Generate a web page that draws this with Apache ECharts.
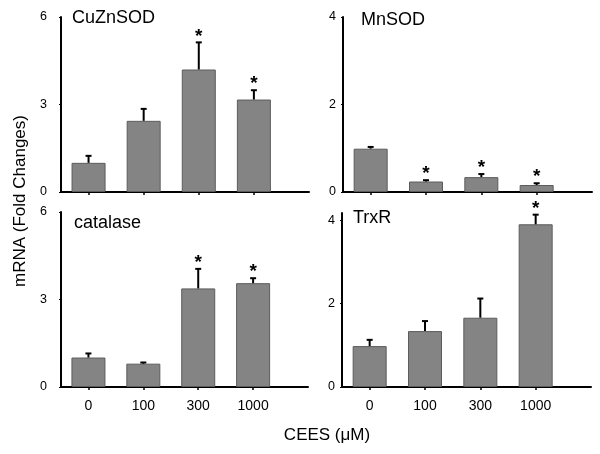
<!DOCTYPE html>
<html>
<head>
<meta charset="utf-8">
<script src="https://cdn.jsdelivr.net/npm/echarts@6/dist/echarts.min.js"></script>
<style>
html,body{margin:0;padding:0;background:#fff;}
#main{width:600px;height:454px;}
</style>
</head>
<body>
<div id="main"></div>
<script>
// CEES doses
var categories = ['0', '100', '300', '1000'];

// fold changes (mean) and error (upper half)
var cuznsod = [1.0, 2.44, 4.2, 3.17];
var cuznsodErr = [0.24, 0.41, 0.93, 0.32];
var cuznsodSig = [0, 0, 1, 1];

var mnsod = [0.99, 0.24, 0.34, 0.16];
var mnsodErr = [0.04, 0.03, 0.07, 0.04];
var mnsodSig = [0, 1, 1, 1];

var catalase = [1.01, 0.8, 3.38, 3.56];
var catalaseErr = [0.14, 0.04, 0.67, 0.17];
var catalaseSig = [0, 0, 1, 1];

var trxr = [0.98, 1.34, 1.66, 3.9];
var trxrErr = [0.15, 0.24, 0.46, 0.23];
var trxrSig = [0, 0, 0, 1];

var titles = ['CuZnSOD', 'MnSOD', 'catalase', 'TrxR'];
var yTicks = [[0, 3, 6], [0, 2, 4], [0, 3, 6], [0, 2, 4]];
var yMax = [6, 4, 6, 4.17];

var panels = [
    {name: titles[0], mean: cuznsod, err: cuznsodErr, sig: cuznsodSig},
    {name: titles[1], mean: mnsod, err: mnsodErr, sig: mnsodSig},
    {name: titles[2], mean: catalase, err: catalaseErr, sig: catalaseSig},
    {name: titles[3], mean: trxr, err: trxrErr, sig: trxrSig}
];

var FONT = '"Liberation Sans", Arial, sans-serif';

var grids = [
    {left: 61, top: 17, width: 248, height: 175},
    {left: 343, top: 17, width: 249, height: 175},
    {left: 61, top: 212, width: 247, height: 175},
    {left: 342, top: 213, width: 249, height: 174}
];
var titlePos = [[72, 9], [361, 11], [74, 214], [353, 209]];

var xAxes = [], yAxes = [], series = [], titleList = [];
var tickIdx = categories.map(function (c, i) { return i; });

panels.forEach(function (p, k) {
    var bottomRow = k >= 2;
    xAxes.push({
        gridIndex: k, type: 'value', min: -0.5, max: 4,
        splitLine: {show: false},
        axisLine: {onZero: false, lineStyle: {color: '#000', width: 2}},
        axisTick: {customValues: tickIdx, length: 3, lineStyle: {color: '#000', width: 1.5}},
        axisLabel: {
            show: bottomRow, customValues: tickIdx, margin: 12,
            fontFamily: FONT, fontSize: 14, color: '#000',
            formatter: function (v) { return categories[Math.round(v)]; }
        }
    });
    yAxes.push({
        gridIndex: k, type: 'value', min: 0, max: yMax[k],
        splitLine: {show: false},
        axisLine: {show: true, onZero: false, lineStyle: {color: '#000', width: 2}},
        axisTick: {customValues: yTicks[k], length: 2, lineStyle: {color: '#000'}},
        axisLabel: {
            customValues: yTicks[k], margin: k % 2 === 0 ? 14 : 7,
            fontFamily: FONT, fontSize: 12.5, color: '#000'
        }
    });
    series.push({
        type: 'bar', xAxisIndex: k, yAxisIndex: k, barWidth: 34,
        itemStyle: {color: '#848484', borderColor: '#5c5c5c', borderWidth: 1},
        data: p.mean.map(function (v, i) { return [i, v]; }),
        silent: true
    });
    series.push({
        type: 'custom', xAxisIndex: k, yAxisIndex: k, z: 5,
        data: p.mean.map(function (v, i) { return [i, v, v + p.err[i], p.sig[i]]; }),
        renderItem: function (params, api) {
            var base = api.coord([api.value(0), api.value(1)]);
            var top = api.coord([api.value(0), api.value(2)]);
            var kids = [
                {type: 'line', shape: {x1: base[0], y1: base[1], x2: top[0], y2: top[1]},
                 style: {stroke: '#000', lineWidth: 2}},
                {type: 'line', shape: {x1: top[0] - 3, y1: top[1], x2: top[0] + 3, y2: top[1]},
                 style: {stroke: '#000', lineWidth: 2}}
            ];
            if (api.value(3)) {
                kids.push({type: 'text', style: {
                    text: '*', x: top[0], y: top[1] - 6,
                    align: 'center', verticalAlign: 'middle',
                    font: 'bold 19px ' + FONT, fill: '#000'
                }});
            }
            return {type: 'group', children: kids};
        },
        silent: true
    });
    titleList.push({
        text: p.name, left: titlePos[k][0], top: titlePos[k][1], padding: 0,
        textStyle: {fontFamily: FONT, fontSize: 18, fontWeight: 'normal', color: '#000'}
    });
});

var myChart = echarts.init(document.getElementById('main'));
var option = {
    animation: false,
    backgroundColor: '#fff',
    title: titleList,
    grid: grids,
    xAxis: xAxes,
    yAxis: yAxes,
    series: series,
    graphic: [
        {type: 'text', x: 20, y: 201, rotation: Math.PI / 2,
         style: {text: 'mRNA (Fold Changes)', font: '17px ' + FONT, fill: '#000',
                 align: 'center', verticalAlign: 'middle'}},
        {type: 'text', x: 327, y: 435,
         style: {text: 'CEES (\u03bcM)', font: '17px ' + FONT, fill: '#000',
                 align: 'center', verticalAlign: 'middle'}}
    ]
};
myChart.setOption(option);
</script>
</body>
</html>
